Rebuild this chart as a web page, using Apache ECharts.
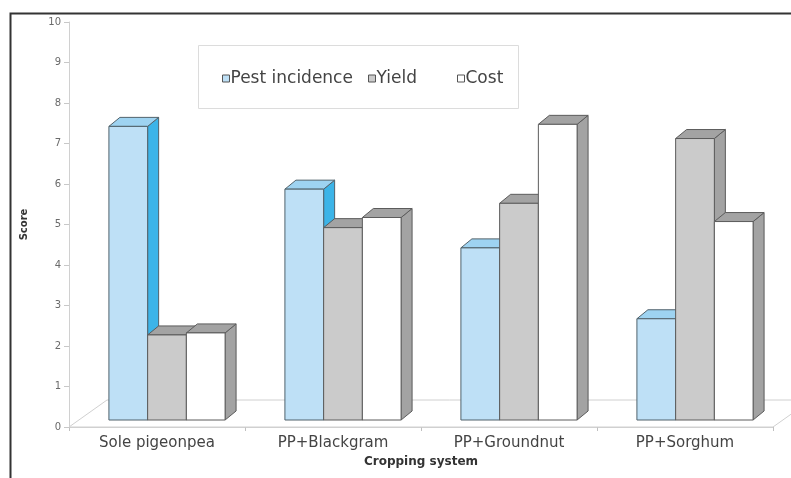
<!DOCTYPE html>
<html>
<head>
<meta charset="utf-8">
<script src="https://cdn.jsdelivr.net/npm/echarts@6/dist/echarts.min.js"></script>
<style>
  html, body { margin: 0; padding: 0; background: #fff; }
  #chart { width: 791px; height: 478px; }
</style>
</head>
<body>
<div id="chart"></div>
<script>
// Cropping systems and their scores
const categories = ['Sole pigeonpea', 'PP+Blackgram', 'PP+Groundnut', 'PP+Sorghum'];
const pestIncidence = [7.25, 5.7, 4.25, 2.5];
const yieldScore = [2.1, 4.75, 5.35, 6.95];
const costScore = [2.15, 5.0, 7.3, 4.9];
const yTicks = [0, 10, 1]; // min, max, interval

const FONT = 'DejaVu Sans';

// face colours for each series: front, top, side
const palettes = [
  { front: '#BEE0F6', top: '#9ED3F1', side: '#3CB4E8', edge: '#50626c' },
  { front: '#CBCBCB', top: '#A3A3A3', side: '#A3A3A3', edge: '#5c5c5c' },
  { front: '#FFFFFF', top: '#A3A3A3', side: '#A3A3A3', edge: '#5c5c5c' }
];

// oblique projection: bars stand a little behind the front edge of the floor
const FRONT = [10, -7];   // shift of bar front plane
const DEPTH = [11, -9];   // bar thickness
const FLOOR = [38, -27];  // full floor depth

function barRenderer(seriesIdx) {
  const pal = palettes[seriesIdx];
  return function (params, api) {
    const cat = api.value(0);
    const val = api.value(1);
    const base = api.coord([cat, 0]);
    const top = api.coord([cat, val]);
    const band = api.size([1, 0])[0];
    const w = band * 0.22;
    const x0 = base[0] - 1.5 * w + seriesIdx * w + FRONT[0];
    const by = base[1] + FRONT[1];
    const ty = top[1] + FRONT[1];
    const x1 = x0 + w;
    const lineStyle = { stroke: pal.edge, lineWidth: 1 };
    return {
      type: 'group',
      children: [
        {
          type: 'polygon',
          shape: { points: [[x1, ty], [x1 + DEPTH[0], ty + DEPTH[1]], [x1 + DEPTH[0], by + DEPTH[1]], [x1, by]] },
          style: Object.assign({ fill: pal.side }, lineStyle)
        },
        {
          type: 'polygon',
          shape: { points: [[x0, ty], [x0 + DEPTH[0], ty + DEPTH[1]], [x1 + DEPTH[0], ty + DEPTH[1]], [x1, ty]] },
          style: Object.assign({ fill: pal.top }, lineStyle)
        },
        {
          type: 'rect',
          shape: { x: x0, y: ty, width: w, height: by - ty },
          style: Object.assign({ fill: pal.front }, lineStyle)
        }
      ]
    };
  };
}

function floorRenderer(params, api) {
  const cs = params.coordSys;
  const l = cs.x, r = cs.x + cs.width, b = cs.y + cs.height;
  return {
    type: 'polygon',
    silent: true,
    shape: { points: [[l, b], [l + FLOOR[0], b + FLOOR[1]], [r + FLOOR[0], b + FLOOR[1]], [r, b]] },
    style: { fill: '#fff', stroke: '#d0d0d0', lineWidth: 1 }
  };
}

const seriesNames = ['Pest incidence', 'Yield', 'Cost'];
const seriesValues = [pestIncidence, yieldScore, costScore];

const chart = echarts.init(document.getElementById('chart'), null, { renderer: 'canvas' });

const legendLefts = [222, 368, 457];

chart.setOption({
  animation: false,
  backgroundColor: '#fff',
  grid: { left: 69, right: 18, top: 22, bottom: 51 },
  graphic: [
    {
      type: 'rect', left: 8, top: 11, z: 0,
      shape: { width: 820, height: 520 },
      style: { fill: 'none', stroke: '#333', lineWidth: 2 }
    },
    {
      type: 'rect', left: 198, top: 45, z: 0,
      shape: { width: 320, height: 63 },
      style: { fill: '#fff', stroke: '#dcdcdc', lineWidth: 1 }
    }
  ],
  legend: seriesNames.map((name, i) => ({
    left: legendLefts[i],
    top: 70,
    padding: 0,
    icon: 'rect',
    itemWidth: 7,
    itemHeight: 7,
    itemGap: 0,
    selectedMode: false,
    textStyle: { fontFamily: FONT, fontSize: 17, color: '#444', padding: [0, 0, 0, -4] },
    data: [{ name: name, itemStyle: { color: palettes[i].front, borderColor: '#555', borderWidth: 1 } }]
  })),
  xAxis: {
    type: 'category',
    data: categories,
    boundaryGap: true,
    name: 'Cropping system',
    nameLocation: 'middle',
    nameGap: 29,
    nameTextStyle: { fontFamily: FONT, fontSize: 12, fontWeight: 'bold', color: '#333' },
    axisLine: { lineStyle: { color: '#d0d0d0' } },
    axisTick: { show: true, length: 4, lineStyle: { color: '#c0c0c0' } },
    axisLabel: { fontFamily: FONT, fontSize: 15, color: '#444', margin: 9 }
  },
  yAxis: {
    type: 'value',
    min: yTicks[0],
    max: yTicks[1],
    interval: yTicks[2],
    name: 'Score',
    nameLocation: 'middle',
    nameGap: 40,
    nameTextStyle: { fontFamily: FONT, fontSize: 10, fontWeight: 'bold', color: '#333' },
    axisLine: { show: true, lineStyle: { color: '#d0d0d0' } },
    axisTick: { show: true, length: 5, lineStyle: { color: '#c8c8c8' } },
    axisLabel: { fontFamily: FONT, fontSize: 10, color: '#6a6a6a', margin: 8 },
    splitLine: { show: false }
  },
  series: [
    {
      type: 'custom',
      name: 'floor',
      renderItem: floorRenderer,
      data: [[0, 0]],
      silent: true,
      z: 1,
      clip: false
    }
  ].concat(seriesNames.map((name, i) => ({
    type: 'custom',
    name: name,
    renderItem: barRenderer(i),
    itemStyle: { color: palettes[i].front, borderColor: '#555' },
    data: seriesValues[i].map((v, k) => [k, v]),
    encode: { x: 0, y: 1 },
    z: 2,
    clip: false
  })))
});
</script>
</body>
</html>
